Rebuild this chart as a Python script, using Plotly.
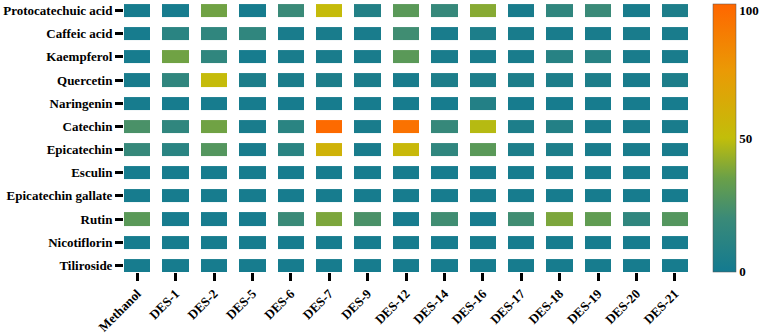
import plotly.graph_objects as go

solvents = ["Methanol", "DES-1", "DES-2", "DES-5", "DES-6", "DES-7", "DES-9", "DES-12",
            "DES-14", "DES-16", "DES-17", "DES-18", "DES-19", "DES-20", "DES-21"]
compounds = ["Protocatechuic acid", "Caffeic acid", "Kaempferol", "Quercetin", "Naringenin",
             "Catechin", "Epicatechin", "Esculin", "Epicatechin gallate", "Rutin",
             "Nicotiflorin", "Tiliroside"]

protocatechuic = [2, 2, 36, 2, 20, 52, 8, 30, 18, 40, 3, 15, 20, 3, 5]
caffeic = [2, 12, 15, 15, 3, 3, 3, 22, 3, 5, 3, 3, 3, 3, 3]
kaempferol = [2, 36, 15, 2, 3, 3, 3, 30, 3, 3, 3, 10, 10, 3, 3]
quercetin = [3, 15, 52, 5, 4, 5, 4, 3, 5, 5, 5, 5, 5, 3, 5]
naringenin = [2, 2, 2, 2, 2, 2, 2, 2, 2, 8, 2, 2, 2, 2, 2]
catechin = [25, 15, 36, 3, 12, 98, 3, 94, 18, 48, 5, 8, 3, 3, 3]
epicatechin = [18, 12, 28, 3, 12, 58, 3, 54, 15, 30, 5, 5, 3, 3, 3]
esculin = [2] * 15
ecg = [2] * 15
rutin = [30, 2, 2, 2, 20, 38, 25, 2, 22, 2, 22, 38, 32, 15, 28]
nicotiflorin = [2] * 15
tiliroside = [2] * 15

z = [protocatechuic, caffeic, kaempferol, quercetin, naringenin, catechin,
     epicatechin, esculin, ecg, rutin, nicotiflorin, tiliroside]

cbar_ticks = [0.3, 50, 97.5]
cbar_text = ["0", "50", "100"]

colorscale = [[0.0, "#137A90"], [0.2, "#3A8A78"], [0.35, "#6AA048"],
              [0.5, "#C2BE0A"], [0.75, "#EA9A05"], [1.0, "#FF6600"]]

font_family = "Liberation Serif"

fig = go.Figure(go.Heatmap(
    z=z, x=solvents, y=compounds,
    zmin=0, zmax=100,
    colorscale=colorscale,
    xgap=12, ygap=10,
    colorbar=dict(
        x=1.0443, xanchor="left", xref="paper", xpad=0, ypad=0,
        y=0.5, yanchor="middle", len=1.0, lenmode="fraction",
        thickness=23, outlinewidth=0.5, outlinecolor="#555",
        tickmode="array", tickvals=cbar_ticks, ticktext=cbar_text,
        ticks="", ticklabeloverflow="allow",
        tickfont=dict(family=font_family, size=13, color="black", weight="bold"),
    ),
    hoverongaps=False,
))

fig.update_layout(
    width=767, height=334,
    margin=dict(l=124, r=79, t=4, b=62, autoexpand=False),
    paper_bgcolor="white", plot_bgcolor="white",
    font=dict(family=font_family, color="black"),
)
fig.update_xaxes(
    range=[-0.5 + 6 / 38.4, 14.5 - 6 / 38.4],
    showgrid=False, zeroline=False, showline=False,
    ticks="outside", ticklen=8, tickwidth=2.5, tickcolor="black",
    tickangle=-45,
    tickfont=dict(family=font_family, size=13, color="black", weight="bold"),
)
fig.update_yaxes(
    range=[11.5 - 5 / 23.2, -0.5 + 5 / 23.2],
    showgrid=False, zeroline=False, showline=False,
    ticks="outside", ticklen=8, tickwidth=2.5, tickcolor="black",
    tickfont=dict(family=font_family, size=13, color="black", weight="bold"),
)

fig.write_html("out.html", config={"displayModeBar": False},
               post_script="document.body.style.margin='0';")
